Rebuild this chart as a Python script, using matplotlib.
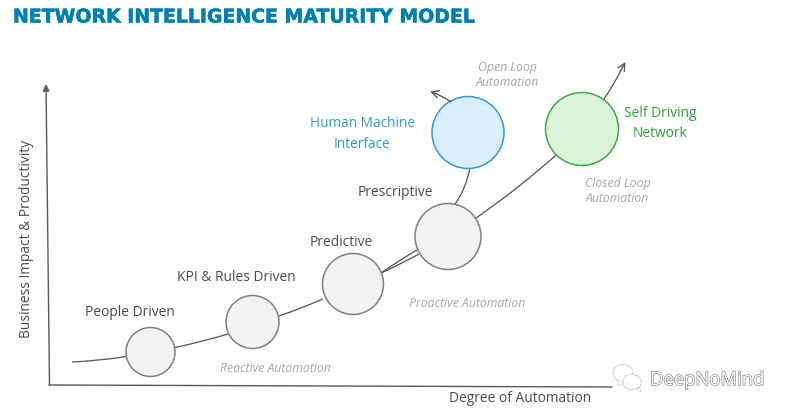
#!/usr/bin/env python
"""Network intelligence maturity model, drawn in picture pixel coordinates."""
import matplotlib
matplotlib.use("Agg")
import matplotlib.pyplot as plt
import matplotlib.patheffects as pe
from matplotlib.patches import Circle, Ellipse, Polygon, PathPatch
from matplotlib.path import Path

plt.rcParams["font.family"] = ["Open Sans", "DejaVu Sans"]

C_AXIS = "#595959"
C_TEXT = "#4a4a4a"
C_NOTE = "#a6a6a6"
C_BLUE = "#2e9bd6"
C_GREEN = "#2e9e3a"

# etapas: centro x, centro y, radio
stage_x = [150.5, 252.5, 353, 448, 468, 582]
stage_y = [352, 322, 284, 236.5, 132.5, 129]
stage_r = [24.5, 26.5, 30.5, 33, 36, 36.5]
stage_fill = ["#f2f2f2", "#f2f2f2", "#f2f2f2", "#f2f2f2", "#d9eefa", "#d9f3d9"]
stage_edge = ["#7f7f7f", "#7f7f7f", "#7f7f7f", "#7f7f7f", C_BLUE, "#3fa648"]

# tramos de la curva: inicio, punto medio, fin
curve_1_x = [72, 100, 126]
curve_1_y = [362, 360, 356.5]
curve_2_x = [175, 201, 228]
curve_2_y = [347.5, 341.5, 334]
curve_3_x = [279, 301, 323]
curve_3_y = [316, 308, 299]
curve_4_x = [381, 399, 417]
curve_4_y = [273, 261, 250]
curve_5_x = [381, 400, 419]
curve_5_y = [273, 264, 254]
curve_6_x = [476, 518, 556]
curve_6_y = [218, 187, 155]
curve_7_x = [455, 464, 470]
curve_7_y = [204, 188, 168]
curve_8_x = [604, 613, 621]
curve_8_y = [99, 85, 70]

# etiquetas
stage_labels = ["People Driven", "KPI & Rules Driven", "Predictive", "Prescriptive"]
stage_label_x = [130, 236, 341, 395]
stage_label_y = [312, 277.5, 242.5, 193]
note_labels = ["Open Loop\nAutomation", "Closed Loop\nAutomation",
               "Proactive Automation", "Reactive Automation"]
note_x = [507, 617.5, 467.5, 275]
note_y = [75, 191, 303.5, 368.5]


def draw_curve(ax, xs, ys):
    # cuadrática que pasa por el punto medio leído
    ctrl = (2 * xs[1] - (xs[0] + xs[2]) / 2, 2 * ys[1] - (ys[0] + ys[2]) / 2)
    path = Path([(xs[0], ys[0]), ctrl, (xs[2], ys[2])],
                [Path.MOVETO, Path.CURVE3, Path.CURVE3])
    ax.add_patch(PathPatch(path, facecolor="none", edgecolor="#595959", lw=0.95, zorder=1))


fig = plt.figure(figsize=(7.92, 4.16), dpi=100)
ax = fig.add_axes([0, 0, 1, 1])
ax.set_xlim(0, 792)
ax.set_ylim(416, 0)
ax.axis("off")

# ejes
ax.plot([49, 612], [385, 387], color=C_AXIS, lw=1.0, zorder=1)
ax.annotate("", xy=(46, 84), xytext=(49.5, 385),
            arrowprops=dict(arrowstyle="-|>", color=C_AXIS, lw=1.0, shrinkA=0, shrinkB=0))

for cx, cy in [(curve_1_x, curve_1_y), (curve_2_x, curve_2_y), (curve_3_x, curve_3_y),
               (curve_4_x, curve_4_y), (curve_5_x, curve_5_y), (curve_6_x, curve_6_y),
               (curve_7_x, curve_7_y), (curve_8_x, curve_8_y)]:
    draw_curve(ax, cx, cy)

# flechas de salida
ax.annotate("", xy=(625.5, 62), xytext=(621, 70),
            arrowprops=dict(arrowstyle="->", color="#595959", lw=1.0, shrinkA=0, shrinkB=0,
                            mutation_scale=13))
ax.annotate("", xy=(430, 91.5), xytext=(451, 102),
            arrowprops=dict(arrowstyle="->", color="#595959", lw=1.0, shrinkA=0, shrinkB=0,
                            mutation_scale=13, connectionstyle="arc3,rad=0.08"))

for x, y, r, fc, ec in zip(stage_x, stage_y, stage_r, stage_fill, stage_edge):
    ax.add_patch(Circle((x, y), r, facecolor=fc, edgecolor=ec, lw=1.1, zorder=2))

ax.text(13, 17, "NETWORK INTELLIGENCE MATURITY MODEL", color="#0080b0",
        fontsize=13.6, fontweight="bold", family="DejaVu Sans", va="center", ha="left",
        path_effects=[pe.withStroke(linewidth=0.4, foreground="#0080b0")])

for s, x, y in zip(stage_labels, stage_label_x, stage_label_y):
    ax.text(x, y, s, color=C_TEXT, fontsize=9.9, ha="center", va="center")

for s, x, y in zip(note_labels, note_x, note_y):
    ax.text(x, y, s, color=C_NOTE, fontsize=8.8, style="italic", ha="center", va="center",
            linespacing=1.3)

ax.text(362, 134, "Human Machine\nInterface", color=C_BLUE, fontsize=9.8, ha="center",
        va="center", linespacing=1.5)
ax.text(660, 123.5, "Self Driving\nNetwork", color=C_GREEN, fontsize=9.9, ha="center",
        va="center", linespacing=1.45)
ax.text(26.5, 239, "Business Impact & Productivity", color=C_TEXT, fontsize=9.9,
        rotation=90, ha="center", va="center")
ax.text(520, 398, "Degree of Automation", color=C_TEXT, fontsize=9.9, ha="center", va="center")

# marca de agua
ax.add_patch(Ellipse((623, 373), 20, 17, facecolor="white", edgecolor="#d0d0d0", lw=0.7, zorder=3))
ax.add_patch(Ellipse((632, 382), 19, 15, facecolor="white", edgecolor="#d0d0d0", lw=0.7, zorder=3))
ax.add_patch(Polygon([[618, 380], [619, 386], [624, 382]], facecolor="white",
                     edgecolor="#d0d0d0", lw=0.5, zorder=3))
ax.add_patch(Polygon([[637, 389], [641, 392], [640, 387]], facecolor="white",
                     edgecolor="#d0d0d0", lw=0.5, zorder=3))
ax.text(650, 380, "DeepNoMind", color="white", fontsize=13.3, ha="left", va="center", zorder=4,
        path_effects=[pe.withStroke(linewidth=1.0, foreground="#8c8c8c")])

fig.savefig("out.png", dpi=100)
